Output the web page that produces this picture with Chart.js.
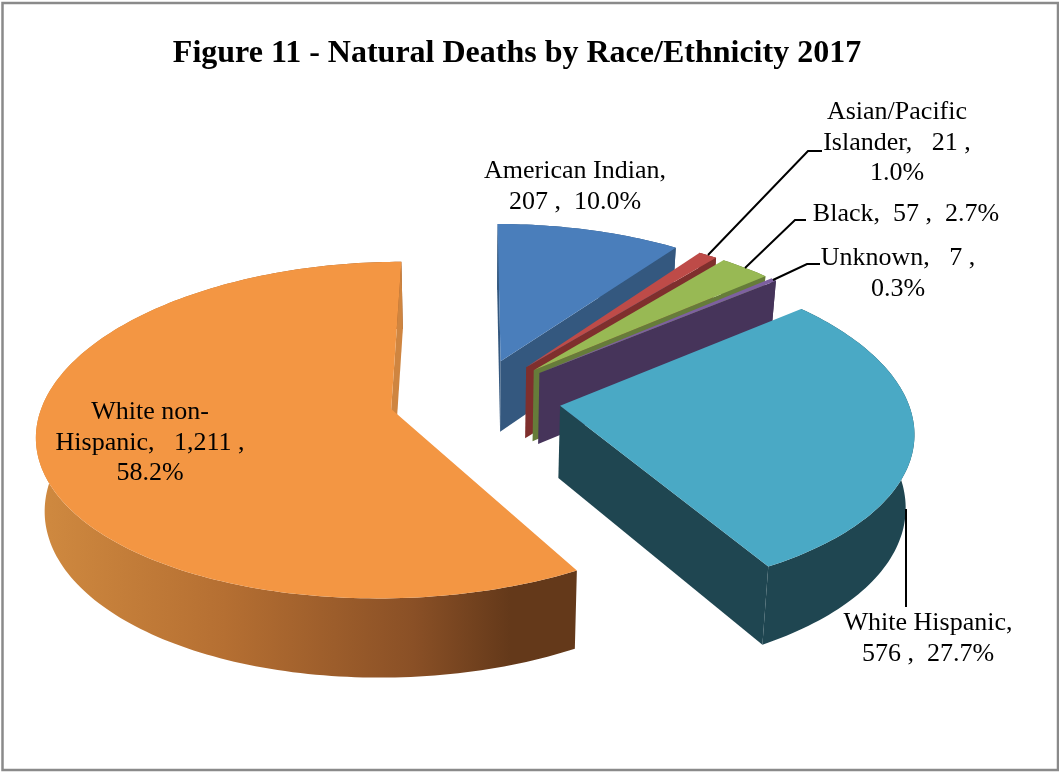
<!DOCTYPE html>
<html>
<head>
<meta charset="utf-8">
<title>Figure 11</title>
<script src="https://cdn.jsdelivr.net/npm/chart.js@4"></script>
<style>
  body { margin: 0; background: #fff; }
  #wrap { width: 1059px; height: 772px; }
</style>
</head>
<body>
<div id="wrap"><canvas id="chart" width="1059" height="772"></canvas></div>
<script>
const categories = ["American Indian", "Asian/Pacific Islander", "Black", "Unknown", "White Hispanic", "White non-Hispanic"];
const deaths = [207, 21, 57, 7, 576, 1211];
const percents = ["10.0%", "1.0%", "2.7%", "0.3%", "27.7%", "58.2%"];
const topColors = ["#4A7EBB", "#BE4B48", "#98B954", "#7D60A0", "#4AA9C5", "#F39643"];
const wallColors = ["#34587F", "#7F2F2D", "#667C3A", "#46345A", "#1F4651", "#CF8540"];

// data labels, broken into lines the way the figure has them
const labels = [
  { cx: 575, cy: 171, lines: ["American Indian,", `${deaths[0]} ,  ${percents[0]}`] },
  { cx: 897, cy: 112, lines: ["Asian/Pacific", `Islander,   ${deaths[1]} ,`, percents[1]] },
  { cx: 906, cy: 214, lines: [`Black,  ${deaths[2]} ,  ${percents[2]}`] },
  { cx: 898, cy: 258, lines: ["Unknown,   7 ,", percents[3]] },
  { cx: 928, cy: 623, lines: ["White Hispanic,", `${deaths[4]} ,  ${percents[4]}`] },
  { cx: 150, cy: 412, lines: ["White non-", "Hispanic,   1,211 ,", percents[5]] },
];

const leaders = [
  [[708, 255], [808, 151], [822, 151]],
  [[745, 268], [795, 220], [806, 220]],
  [[773, 280], [807, 264], [820, 264]],
  [[906, 509], [906, 607]],
];

// fake 3D: flat pie coords (radius 1) go through a simple perspective
const X0 = 475, Y0 = 398.5, SX = 347, SY = 163, PERSP_X = 0.1375, PERSP_Y = 0.125;

function project(u, v) {
  return { x: X0 + SX * u / (1 - PERSP_X * v), y: Y0 + SY * v / (1 - PERSP_Y * v) };
}

// same point on the underside of the pie
function lower(p) {
  return { x: X0 + (p.x - X0) * 0.98, y: p.y + 72 + 0.036 * (p.y - Y0) };
}

function poly(ctx, pts, fill) {
  ctx.beginPath();
  pts.forEach((p, i) => (i ? ctx.lineTo(p.x, p.y) : ctx.moveTo(p.x, p.y)));
  ctx.closePath();
  ctx.fillStyle = fill;
  ctx.fill();
}

const pie3d = {
  id: "pie3d",
  beforeDraw(chart) {
    const ctx = chart.ctx;
    ctx.save();
    ctx.strokeStyle = "#8a8a8a";
    ctx.lineWidth = 2.5;
    ctx.strokeRect(2.5, 3, 1055.5, 767);
    ctx.restore();
  },
  // replaces the flat arcs with extruded ones, angles still come from the controller
  beforeDatasetDraw(chart, args) {
    const ctx = chart.ctx;
    const meta = args.meta;
    ctx.save();
    meta.data.forEach((el, i) => {
      const e = el.options.offset / el.outerRadius;
      const mid = (el.startAngle + el.endAngle) / 2;
      const ou = Math.cos(mid) * e, ov = Math.sin(mid) * e;
      const tip = project(ou, ov);
      const rim = [];
      const steps = Math.max(2, Math.ceil((el.endAngle - el.startAngle) / 0.02));
      for (let s = 0; s <= steps; s++) {
        const a = el.startAngle + (el.endAngle - el.startAngle) * s / steps;
        rim.push(project(ou + Math.cos(a), ov + Math.sin(a)));
      }
      const first = rim[0], last = rim[rim.length - 1];
      const wall = chart.data.datasets[0].wallColor[i];

      let rimFill = wall;
      if (i === 5) {
        rimFill = ctx.createLinearGradient(36, 0, 575, 0);
        rimFill.addColorStop(0, "#D08A40");
        rimFill.addColorStop(0.35, "#B56F32");
        rimFill.addColorStop(0.7, "#8A5026");
        rimFill.addColorStop(0.88, "#64391A");
        rimFill.addColorStop(1, "#64391A");
      }
      poly(ctx, rim.concat(rim.map(lower).reverse()), rimFill);

      // radial walls only when they face the viewer
      if (-Math.cos(el.startAngle) > -0.05) poly(ctx, [tip, first, lower(first), lower(tip)], wall);
      if (Math.cos(el.endAngle) > -0.05) poly(ctx, [tip, last, lower(last), lower(tip)], wall);

      poly(ctx, [tip].concat(rim), el.options.backgroundColor);
    });
    ctx.restore();
    return false;
  },
  afterDatasetsDraw(chart) {
    const ctx = chart.ctx;
    ctx.save();
    ctx.strokeStyle = "#000";
    ctx.lineWidth = 2;
    leaders.forEach(pts => {
      ctx.beginPath();
      pts.forEach((p, i) => (i ? ctx.lineTo(p[0], p[1]) : ctx.moveTo(p[0], p[1])));
      ctx.stroke();
    });
    ctx.fillStyle = "#000";
    ctx.font = "26px 'Liberation Serif'";
    ctx.textAlign = "center";
    ctx.textBaseline = "middle";
    labels.forEach(l => {
      l.lines.forEach((t, j) => ctx.fillText(t, l.cx, l.cy + j * 30.7));
    });
    ctx.restore();
  },
};

new Chart(document.getElementById("chart"), {
  type: "pie",
  data: {
    labels: categories,
    datasets: [{
      data: deaths,
      backgroundColor: topColors,
      wallColor: wallColors,
      borderWidth: 0,
      offset: 76,
    }],
  },
  options: {
    responsive: false,
    animation: false,
    layout: { padding: { right: 25 } },
    plugins: {
      legend: { display: false },
      tooltip: { enabled: false },
      title: {
        display: true,
        text: "Figure 11 - Natural Deaths by Race/Ethnicity 2017",
        color: "#000",
        font: { family: "'Liberation Serif'", size: 32, weight: "bold" },
        padding: { top: 35, bottom: 9 },
      },
    },
  },
  plugins: [pie3d],
});
</script>
</body>
</html>
